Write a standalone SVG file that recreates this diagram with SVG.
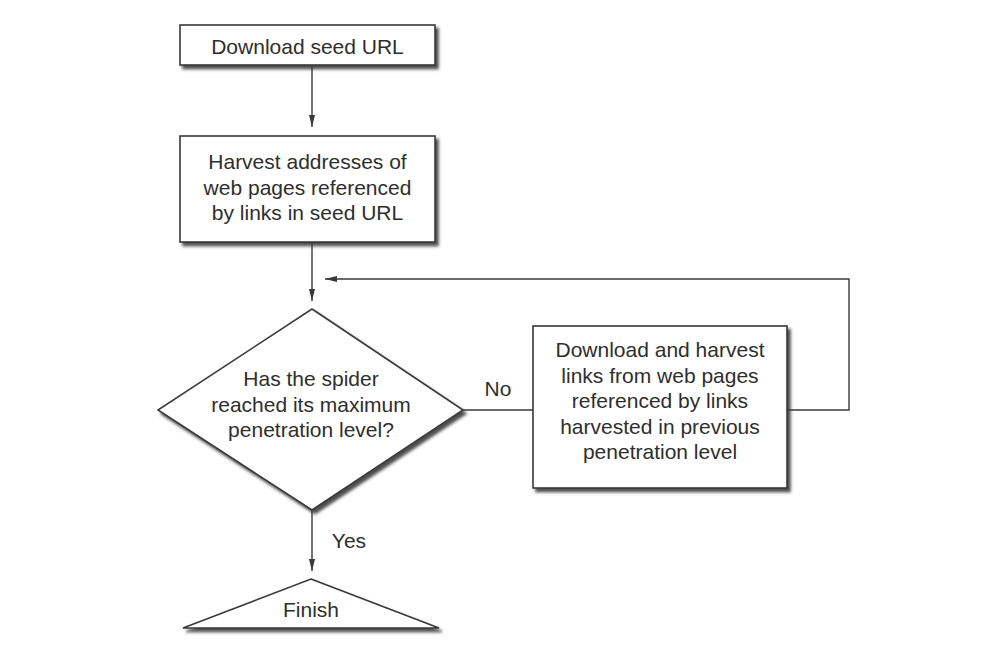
<svg xmlns="http://www.w3.org/2000/svg" width="1002" height="652" viewBox="0 0 1002 652">
<style>
.node{fill:#ffffff;stroke:#3a3a3a;stroke-width:1.6;filter:url(#shadow)}
.lbl{font-family:"Liberation Sans",Arial,sans-serif;font-size:21px;fill:#2e2e2e;text-anchor:middle}
.edge{fill:none;stroke:#3a3a3a;stroke-width:1.4}
</style>
<defs>
<filter id="shadow" x="-10%" y="-10%" width="125%" height="130%">
<feDropShadow dx="3" dy="3.5" stdDeviation="1.7" flood-color="#3a3a3a" flood-opacity="0.9"/>
</filter>
<marker id="arr" viewBox="0 0 12 8" refX="12" refY="4" markerWidth="12" markerHeight="8" markerUnits="userSpaceOnUse" orient="auto">
<path d="M0,1 L12,4 L0,7 Z" fill="#3a3a3a"/>
</marker>
</defs>
<rect width="1002" height="652" fill="#ffffff"/>
<g id="connectors">
<line class="edge" x1="312" y1="65" x2="312" y2="127" marker-end="url(#arr)"/>
<line class="edge" x1="312" y1="242" x2="312" y2="301" marker-end="url(#arr)"/>
<line class="edge" x1="463" y1="410" x2="533" y2="410"/>
<polyline class="edge" points="787,410 849,410 849,279 325,279" marker-end="url(#arr)"/>
<line class="edge" x1="312" y1="510" x2="312" y2="571" marker-end="url(#arr)"/>
<text class="lbl" x="498" y="396">No</text>
<text class="lbl" x="349" y="548">Yes</text>
</g>
<g id="download-seed">
<rect class="node" x="180" y="25" width="255" height="40"/>
<text class="lbl" x="307.5" y="54">Download seed URL</text>
</g>
<g id="harvest-addresses">
<rect class="node" x="180" y="136" width="255" height="106"/>
<text class="lbl" x="307.5" y="169">Harvest addresses of</text>
<text class="lbl" x="307.5" y="194.5">web pages referenced</text>
<text class="lbl" x="307.5" y="220">by links in seed URL</text>
</g>
<g id="max-level">
<polygon class="node" points="312,309 463,410 312,510 158,410"/>
<text class="lbl" x="311" y="386">Has the spider</text>
<text class="lbl" x="311" y="411.5">reached its maximum</text>
<text class="lbl" x="311" y="437">penetration level?</text>
</g>
<g id="download-harvest">
<rect class="node" x="533" y="326" width="254" height="162"/>
<text class="lbl" x="660" y="357">Download and harvest</text>
<text class="lbl" x="660" y="382.5">links from web pages</text>
<text class="lbl" x="660" y="408">referenced by links</text>
<text class="lbl" x="660" y="433.5">harvested in previous</text>
<text class="lbl" x="660" y="459">penetration level</text>
</g>
<g id="finish">
<polygon class="node" points="311,579 439,628 183,628"/>
<text class="lbl" x="311" y="617">Finish</text>
</g>
</svg>
